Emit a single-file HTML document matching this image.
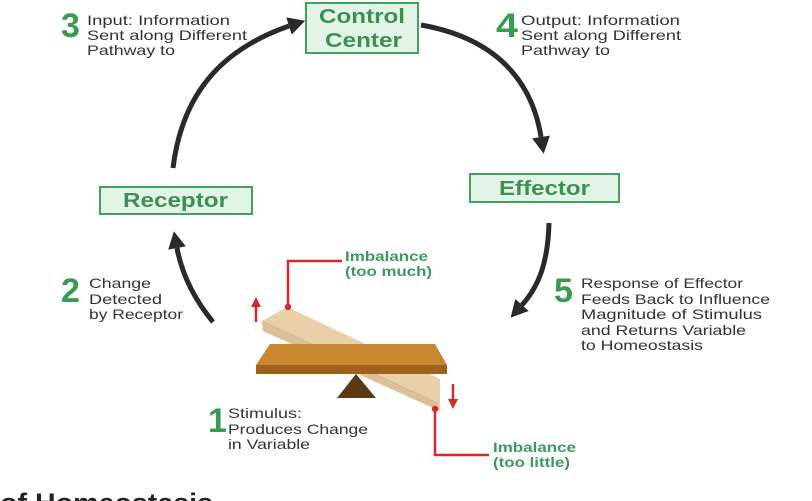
<!DOCTYPE html>
<html>
<head>
<meta charset="utf-8">
<style>
  html,body{margin:0;padding:0;background:#ffffff;}
  body{width:812px;height:501px;overflow:hidden;}
  svg{display:block;}
  .t{font-family:"Liberation Sans",Arial,sans-serif;font-size:14px;fill:#333333;}
  .d{font-family:"Liberation Sans",Arial,sans-serif;font-size:34px;font-weight:bold;fill:#3a9a52;}
  .g{font-family:"Liberation Sans",Arial,sans-serif;font-size:14px;font-weight:bold;fill:#3d9a5c;}
  .b{font-family:"Liberation Sans",Arial,sans-serif;font-size:20.5px;font-weight:bold;fill:#3e8f57;}
</style>
</head>
<body>
<svg width="812" height="501" viewBox="0 0 812 501" xmlns="http://www.w3.org/2000/svg">
  <rect x="0" y="0" width="812" height="501" fill="#ffffff"/>

  <!-- Boxes -->
  <rect x="306" y="3" width="112" height="50" fill="#e2f4e5" stroke="#43a061" stroke-width="2"/>
  <text class="b" x="319" y="23" textLength="86" lengthAdjust="spacingAndGlyphs">Control</text>
  <text class="b" x="325" y="47" textLength="77" lengthAdjust="spacingAndGlyphs">Center</text>

  <rect x="100" y="187" width="152" height="27" fill="#e2f4e5" stroke="#43a061" stroke-width="2"/>
  <text class="b" x="123" y="207" textLength="105" lengthAdjust="spacingAndGlyphs">Receptor</text>

  <rect x="470" y="174" width="149" height="28" fill="#e2f4e5" stroke="#43a061" stroke-width="2"/>
  <text class="b" x="499" y="195" textLength="91" lengthAdjust="spacingAndGlyphs">Effector</text>

  <!-- Cycle arrows -->
  <g fill="none" stroke="#2a2a2a" stroke-width="5">
    <path d="M173,168 C182,95 220,50 289,26"/>
    <path d="M421,25 C495,38 532,80 541,137"/>
    <path d="M549,223 C548,260 540,285 522,305"/>
    <path d="M213,322 C195,300 182,275 177,248"/>
  </g>
  <g fill="#2a2a2a">
    <polygon points="305.2,20.8 291.7,34.6 286.3,17.4"/>
    <polygon points="543.7,153.8 549.9,135.6 532.1,138.4"/>
    <polygon points="510.6,317.6 528.7,311 515.3,299"/>
    <polygon points="173.9,231.3 185.8,246.4 168.2,249.6"/>
  </g>

  <!-- Label 3 -->
  <text class="d" x="61" y="37">3</text>
  <text class="t" x="87" y="25" textLength="143" lengthAdjust="spacingAndGlyphs">Input: Information</text>
  <text class="t" x="87" y="40" textLength="160" lengthAdjust="spacingAndGlyphs">Sent along Different</text>
  <text class="t" x="87" y="55" textLength="88" lengthAdjust="spacingAndGlyphs">Pathway to</text>

  <!-- Label 4 -->
  <text class="d" x="496" y="37" textLength="22" lengthAdjust="spacingAndGlyphs">4</text>
  <text class="t" x="521" y="25" textLength="159" lengthAdjust="spacingAndGlyphs">Output: Information</text>
  <text class="t" x="521" y="40" textLength="160" lengthAdjust="spacingAndGlyphs">Sent along Different</text>
  <text class="t" x="521" y="55" textLength="89" lengthAdjust="spacingAndGlyphs">Pathway to</text>

  <!-- Label 2 -->
  <text class="d" x="61" y="302">2</text>
  <text class="t" x="89" y="288" textLength="62" lengthAdjust="spacingAndGlyphs">Change</text>
  <text class="t" x="89" y="304" textLength="73" lengthAdjust="spacingAndGlyphs">Detected</text>
  <text class="t" x="89" y="319" textLength="94" lengthAdjust="spacingAndGlyphs">by Receptor</text>

  <!-- Label 5 -->
  <text class="d" x="554" y="302">5</text>
  <text class="t" x="581" y="288" textLength="162" lengthAdjust="spacingAndGlyphs">Response of Effector</text>
  <text class="t" x="581" y="304" textLength="189" lengthAdjust="spacingAndGlyphs">Feeds Back to Influence</text>
  <text class="t" x="581" y="319" textLength="181" lengthAdjust="spacingAndGlyphs">Magnitude of Stimulus</text>
  <text class="t" x="581" y="335" textLength="165" lengthAdjust="spacingAndGlyphs">and Returns Variable</text>
  <text class="t" x="581" y="350" textLength="122" lengthAdjust="spacingAndGlyphs">to Homeostasis</text>

  <!-- Label 1 -->
  <text class="d" x="208" y="432">1</text>
  <text class="t" x="228" y="418" textLength="74" lengthAdjust="spacingAndGlyphs">Stimulus:</text>
  <text class="t" x="228" y="434" textLength="140" lengthAdjust="spacingAndGlyphs">Produces Change</text>
  <text class="t" x="228" y="449" textLength="82" lengthAdjust="spacingAndGlyphs">in Variable</text>

  <!-- Seesaw plank -->
  <polygon points="287,307 440,379 440,411 263,331 262,321" fill="#e9d0a8"/>
  <polygon points="262,321 437,403 440,411 263,331" fill="#dcc096"/>
  <line x1="262" y1="321" x2="437" y2="403" stroke="#cfb085" stroke-width="0.8"/>

  <!-- Board -->
  <polygon points="270,344 435,344 447,365 256,365" fill="#c8862e"/>
  <rect x="256" y="365" width="191" height="9" fill="#9e621c"/>

  <!-- Fulcrum -->
  <polygon points="356,374 376,398 337,398" fill="#5b3a13"/>

  <!-- Red indicators -->
  <g stroke="#d02a2e" stroke-width="2.5" fill="none">
    <polyline points="288,307 288,261 342,261"/>
    <polyline points="435,409 435,455 489,455"/>
    <line x1="256" y1="322" x2="256" y2="305"/>
    <line x1="453" y1="384" x2="453" y2="401"/>
  </g>
  <g fill="#d02a2e">
    <circle cx="288" cy="307" r="3.2"/>
    <circle cx="435" cy="409" r="3.2"/>
    <polygon points="256,297 251,307 261,307"/>
    <polygon points="453,409 448,399 458,399"/>
  </g>

  <!-- Imbalance labels -->
  <text class="g" x="345" y="261" textLength="83" lengthAdjust="spacingAndGlyphs">Imbalance</text>
  <text class="g" x="345" y="276" textLength="87" lengthAdjust="spacingAndGlyphs">(too much)</text>
  <text class="g" x="493" y="452" textLength="83" lengthAdjust="spacingAndGlyphs">Imbalance</text>
  <text class="g" x="493" y="467" textLength="77" lengthAdjust="spacingAndGlyphs">(too little)</text>

  <!-- Bottom heading (cropped) -->
  <text x="0" y="512" font-family="'Liberation Sans',Arial,sans-serif" font-size="27" font-weight="bold" fill="#232323" textLength="213" lengthAdjust="spacingAndGlyphs">of Homeostasis</text>
</svg>
</body>
</html>
